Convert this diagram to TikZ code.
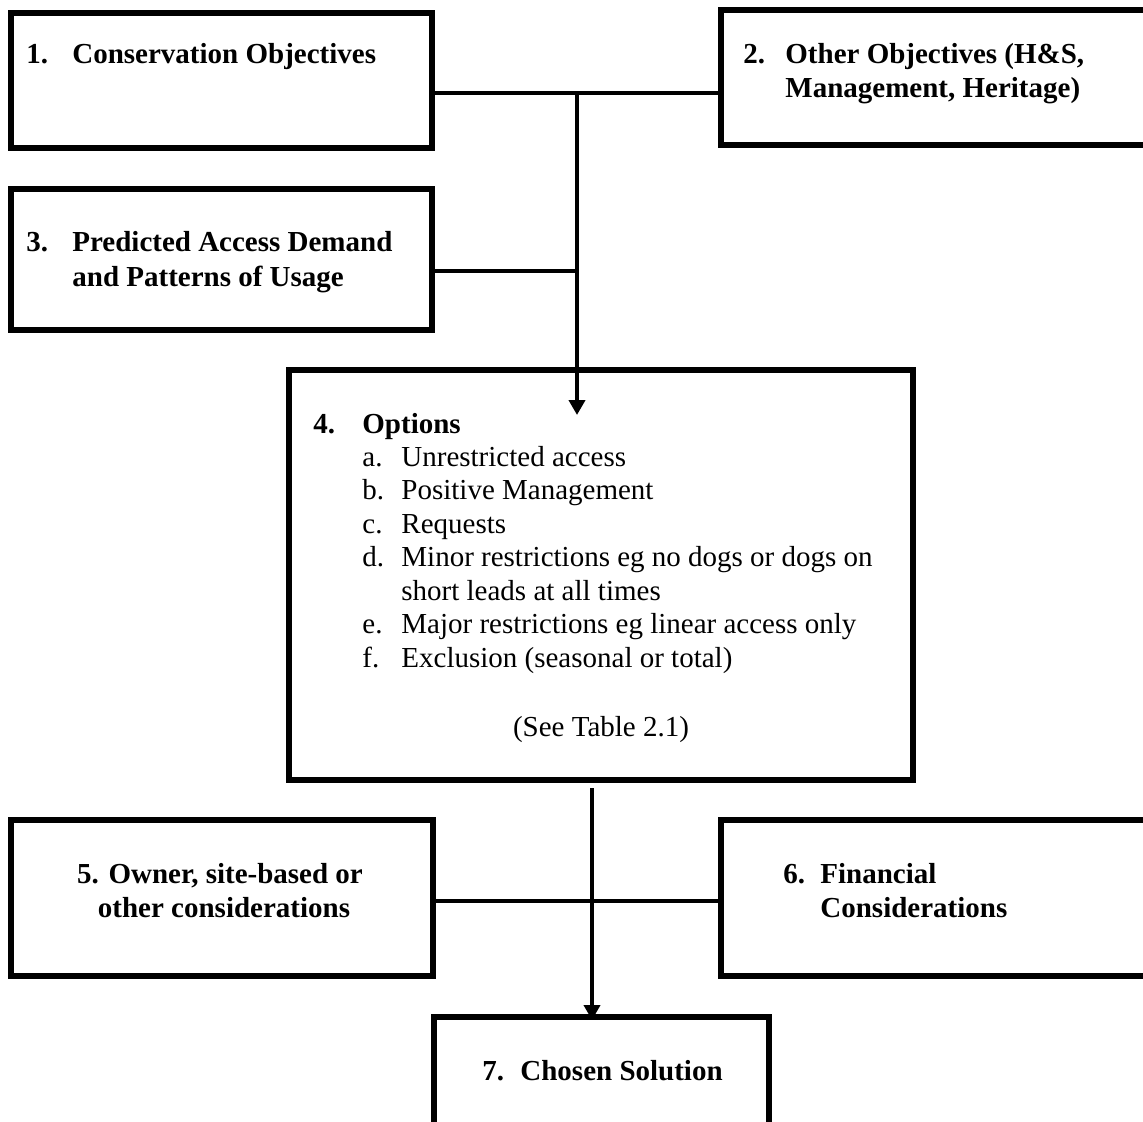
\documentclass[tikz,border=0pt]{standalone}
\usepackage{fontspec}
\setmainfont{Liberation Serif}
\usetikzlibrary{arrows.meta}

\begin{document}
\begin{tikzpicture}[x=0.5pt, y=-0.5pt,
    box/.style={draw, line width=3pt, rectangle, inner sep=0pt},
    link/.style={line width=2.3pt},
    tip/.style={-{Triangle[width=8pt,length=7.5pt]}},
    head/.style={anchor=base west, inner sep=0pt, font=\fontsize{14.5}{17}\selectfont\bfseries},
    item/.style={anchor=base west, inner sep=0pt, font=\fontsize{14.5}{17}\selectfont}]
    \path[use as bounding box, clip] (0,0) rectangle (1143,1121);

    % Objective boxes
    \node[box, minimum width=210.5pt, minimum height=67.5pt] (cons) at (221.5,80.5) {};
    \node[box, minimum width=222pt, minimum height=67.5pt] (other) at (943,77.5) {};
    \node[box, minimum width=210.5pt, minimum height=70.5pt] (demand) at (221.5,259.5) {};
    \node[head] (consnum) at (26,63) {1.};
    \node[head] (constxt) at (72,63) {Conservation Objectives};
    \node[head] (othernum) at (743,63) {2.};
    \node[head] (othertxt) at (785,63) {Other Objectives (H\&S,};
    \node[head] (othertxtb) at (785,97) {Management, Heritage)};
    \node[head] (demandnum) at (26,251) {3.};
    \node[head] (demandtxt) at (72,251) {Predicted Access Demand};
    \node[head] (demandtxtb) at (72,286) {and Patterns of Usage};

    % Options box
    \node[box, minimum width=312pt, minimum height=205pt] (opt) at (601,575) {};
    \node[head] (optnum) at (313,433) {4.};
    \node[head] (opttxt) at (362,433) {Options};
    \node[item] (opta) at (362,466) {a.};
    \node[item] (optatxt) at (401,466) {Unrestricted access};
    \node[item] (optb) at (362,499.5) {b.};
    \node[item] (optbtxt) at (401,499.5) {Positive Management};
    \node[item] (optc) at (362,533) {c.};
    \node[item] (optctxt) at (401,533) {Requests};
    \node[item] (optd) at (362,566.5) {d.};
    \node[item] (optdtxt) at (401,566.5) {Minor restrictions eg no dogs or dogs on};
    \node[item] (optdtxtb) at (401,600) {short leads at all times};
    \node[item] (opte) at (362,633.5) {e.};
    \node[item] (optetxt) at (401,633.5) {Major restrictions eg linear access only};
    \node[item] (optf) at (362,667) {f.};
    \node[item] (optftxt) at (401,667) {Exclusion (seasonal or total)};
    \node[item, anchor=base] (opttab) at (601,736) {(See Table 2.1)};

    % Consideration boxes
    \node[box, minimum width=211pt, minimum height=78pt] (owner) at (222,898) {};
    \node[box, minimum width=222pt, minimum height=78pt] (fin) at (943,898) {};
    \node[box, minimum width=167.5pt, minimum height=71.5pt] (chosen) at (601.5,1088.5) {};
    \node[head, anchor=base] (ownertxt) at (220,883) {5. Owner, site-based or};
    \node[head, anchor=base] (ownertxtb) at (224,917) {other considerations};
    \node[head] (finnum) at (783,883) {6.};
    \node[head] (fintxt) at (820,883) {Financial};
    \node[head] (fintxtb) at (820,917) {Considerations};
    \node[head] (chosennum) at (482,1080) {7.};
    \node[head] (chosentxt) at (520,1080) {Chosen Solution};

    % Connectors
    \coordinate (jtop) at (577,93);
    \coordinate (jmid) at (577,271);
    \coordinate (tipopt) at (577,415);
    \draw[link] (jtop -| cons.east) -- (jtop -| other.west);
    \draw[link] (jmid -| demand.east) -- (jmid);
    \draw[link, tip] (jtop) -- (tipopt);
    \coordinate (jlow) at (592,788);
    \coordinate (jside) at (592,901);
    \coordinate (tipchosen) at (592,1020);
    \draw[link] (jside -| owner.east) -- (jside -| fin.west);
    \draw[link, tip] (jlow) -- (tipchosen);
\end{tikzpicture}
\end{document}
